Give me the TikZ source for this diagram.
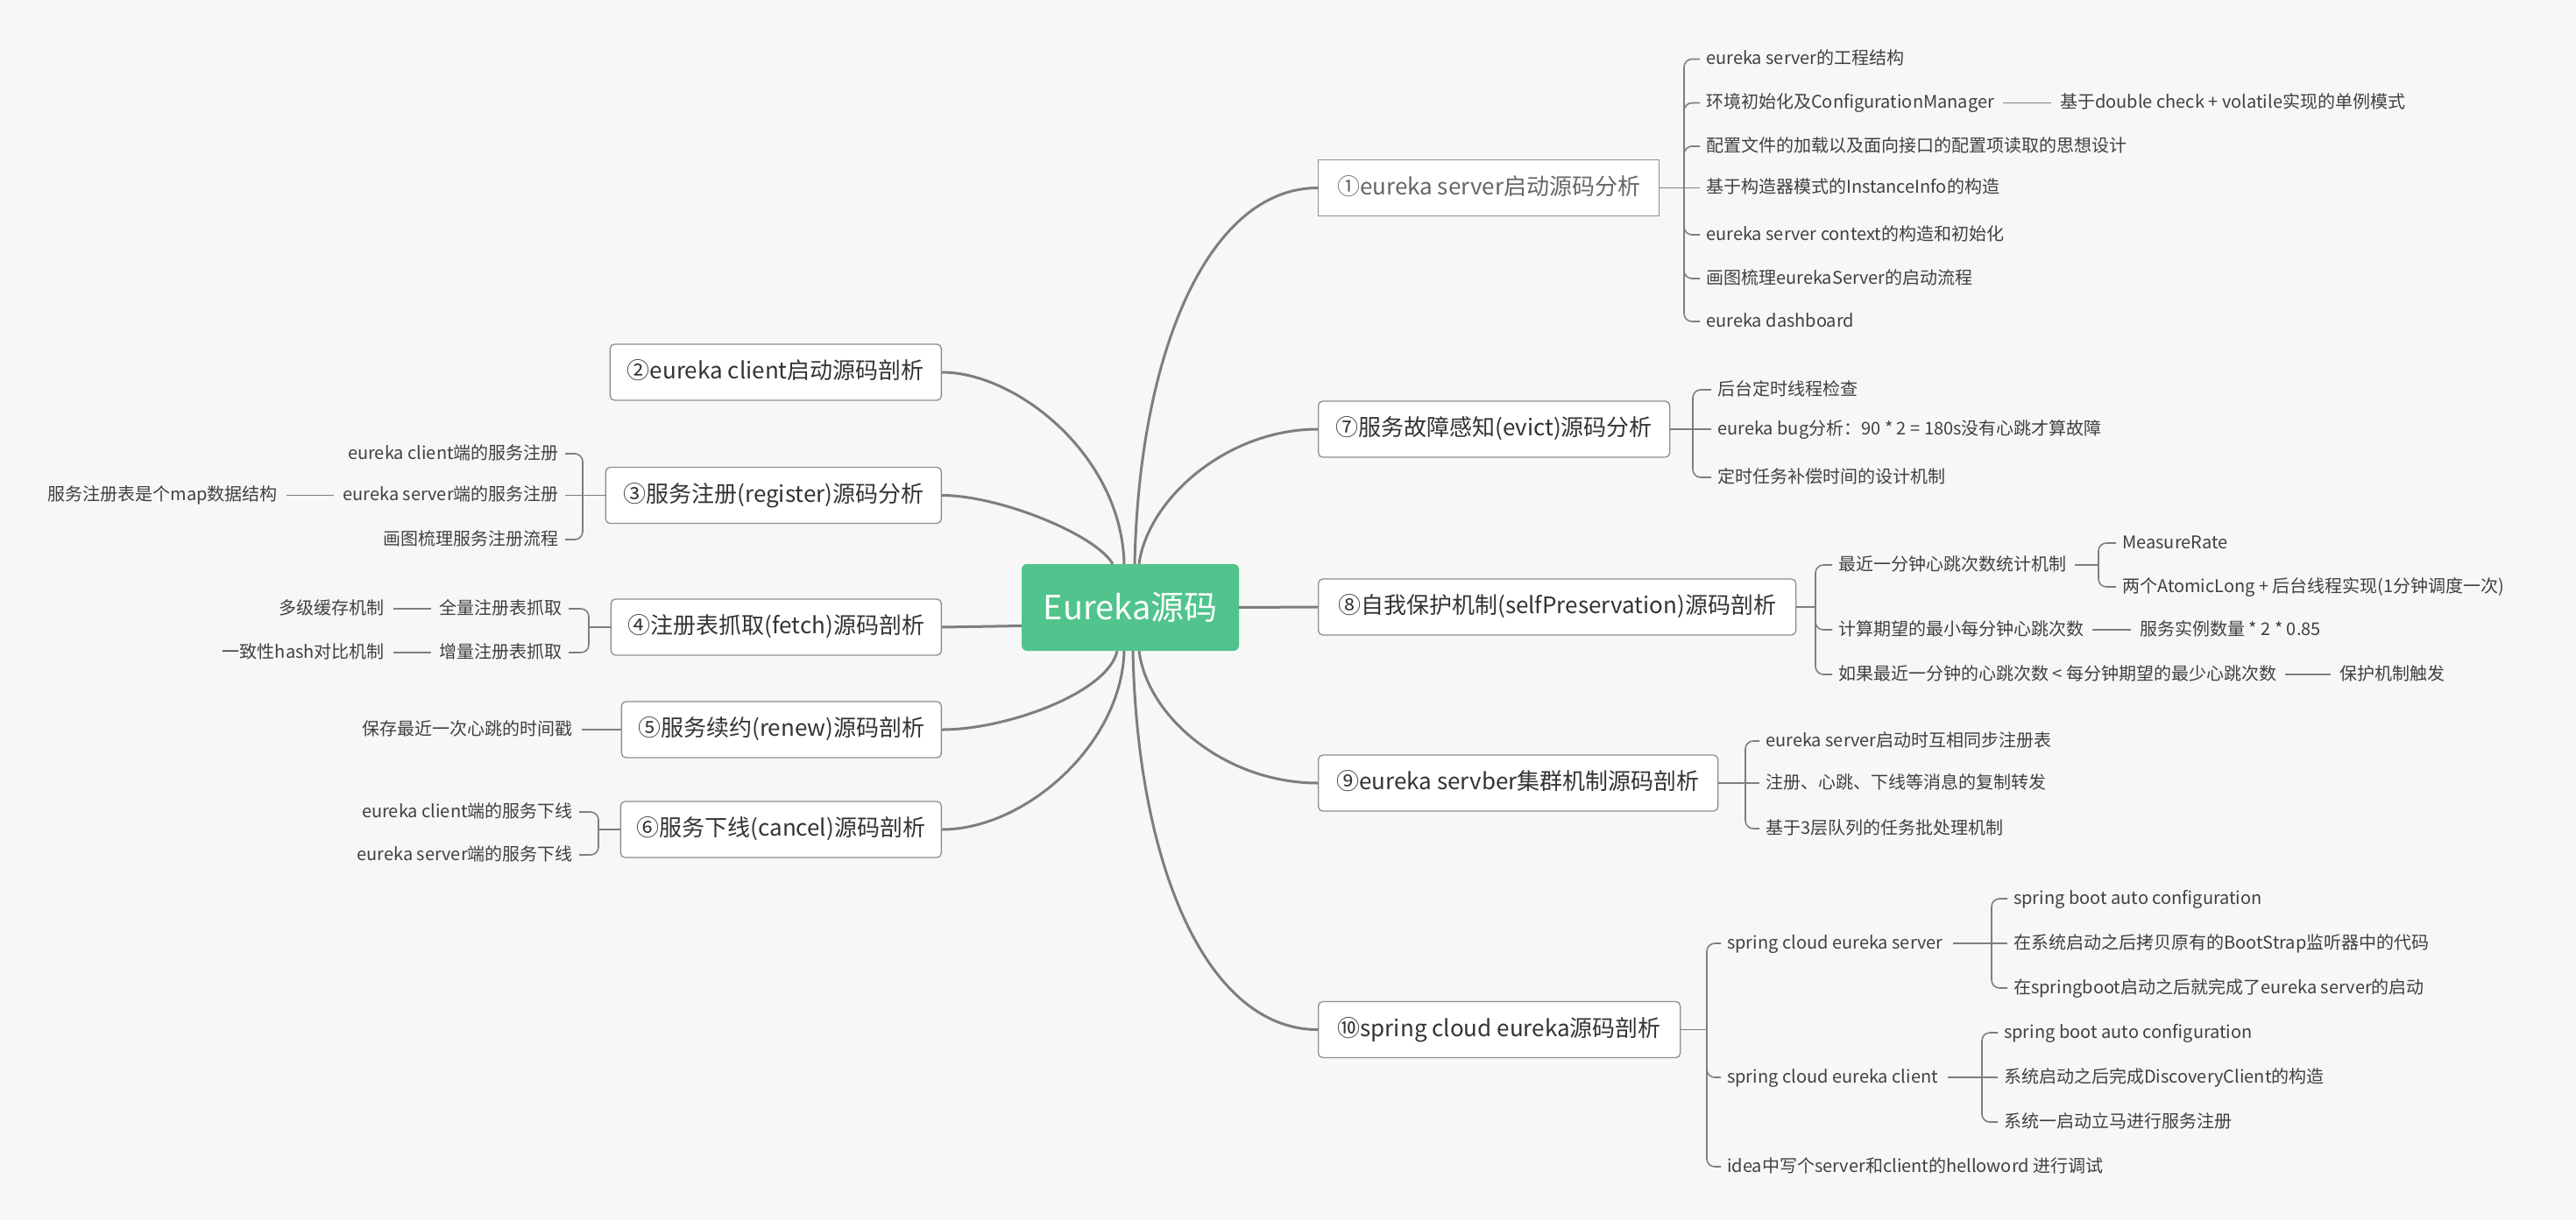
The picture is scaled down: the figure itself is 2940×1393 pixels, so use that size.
\documentclass[tikz,border=0pt]{standalone}
\usepackage{fontspec}
\setmainfont{Noto Sans CJK SC}
\usetikzlibrary{positioning}
\definecolor{bgcol}{HTML}{F7F7F7}
\definecolor{rootcol}{HTML}{50C48C}
\definecolor{linecol}{HTML}{7E7E7E}
\definecolor{bordercol}{HTML}{8E8E8E}
\definecolor{topictxt}{HTML}{333333}
\definecolor{firsttxt}{HTML}{666666}
\definecolor{leaftxt}{HTML}{404040}
\begin{document}
\begin{tikzpicture}[x=1pt,y=-1pt,
  rootnode/.style={fill=rootcol, rounded corners=6pt, text=white,
    font=\fontsize{38}{44}\selectfont, minimum width=248pt, minimum height=99pt, inner sep=0pt},
  topic/.style={draw=bordercol, line width=1.3pt, fill=white, rounded corners=5pt,
    text=topictxt, font=\fontsize{26}{30}\selectfont, minimum height=64pt,
    inner xsep=16pt, inner ysep=0pt, text height=20pt, text depth=5pt},
  rtopic/.style={topic, anchor=west},
  ltopic/.style={topic, anchor=east},
  leaf/.style={text=leaftxt, font=\fontsize{20}{24}\selectfont, inner sep=3pt,
    text height=15.5pt, text depth=3.5pt},
  rleaf/.style={leaf, anchor=west},
  lleaf/.style={leaf, anchor=east},
  mainlink/.style={draw=linecol, line width=3pt},
  sublink/.style={draw=linecol, line width=1.6pt},
  brace/.style={sublink, rounded corners=9pt, shorten >=4pt},
  gapline/.style={sublink, shorten <=7pt, shorten >=7pt},
]
\useasboundingbox (0,0) rectangle (2940,1393);
\fill[bgcol] (0,0) rectangle (2940,1393);

% ---------- root ----------
\node[rootnode] (root) at (1290,693.5) {Eureka源码};

% ---------- main topics ----------
\node[rtopic, minimum width=389pt, sharp corners, text=firsttxt] (t1) at (1504,214.5) {①eureka server启动源码分析};
\node[rtopic, minimum width=401pt] (t7) at (1504,490) {⑦服务故障感知(evict)源码分析};
\node[rtopic, minimum width=545pt] (t8) at (1504,693) {⑧自我保护机制(selfPreservation)源码剖析};
\node[rtopic, minimum width=456pt] (t9) at (1504,894) {⑨eureka servber集群机制源码剖析};
\node[rtopic, minimum width=413pt] (t10) at (1504,1175.5) {⑩spring cloud eureka源码剖析};

\node[ltopic, minimum width=378pt] (t2) at (1075,425) {②eureka client启动源码剖析};
\node[ltopic, minimum width=383pt] (t3) at (1075,565.5) {③服务注册(register)源码分析};
\node[ltopic, minimum width=377pt] (t4) at (1075,716) {④注册表抓取(fetch)源码剖析};
\node[ltopic, minimum width=365pt] (t5) at (1075,833) {⑤服务续约(renew)源码剖析};
\node[ltopic, minimum width=366pt] (t6) at (1075,947) {⑥服务下线(cancel)源码剖析};

% ---------- root connectors ----------
\coordinate (rt1) at ([xshift=5pt]root.north);
\coordinate (rt2) at ([xshift=-7pt]root.north);
\coordinate (rt3) at ([xshift=-20pt]root.north);
\coordinate (rt7) at ([xshift=10pt]root.north);
\coordinate (rb5) at ([xshift=-15pt]root.south);
\coordinate (rb6) at ([xshift=-7pt]root.south);
\coordinate (rb10) at ([xshift=3pt]root.south);
\coordinate (rb9) at ([xshift=10pt]root.south);
\coordinate (rw4) at ([yshift=-21pt]root.west);

\draw[mainlink] (rt1) .. controls +(5,-244) and +(-124,0) .. (t1.west);
\draw[mainlink] (rt2) .. controls +(-3,-124) and +(85,0) .. (t2.east);
\draw[mainlink] (rt3) .. controls +(-20,-34) and +(65,0) .. (t3.east);
\draw[mainlink] (rw4) -- (t4.east);
\draw[mainlink] (rb5) .. controls +(-10,47) and +(75,0) .. (t5.east);
\draw[mainlink] (rb6) .. controls +(-3,107) and +(95,0) .. (t6.east);
\draw[mainlink] (rt7) .. controls +(10,-74) and +(-104,0) .. (t7.west);
\draw[mainlink] (root.east) -- (t8.west);
\draw[mainlink] (rb9) .. controls +(10,77) and +(-104,0) .. (t9.west);
\draw[mainlink] (rb10) .. controls +(5,247) and +(-126,0) .. (t10.west);

% ---------- topic 1 ----------
\coordinate (b1) at (1922,214.5);
\node[rleaf] (c1a) at (1944,67.5) {eureka server的工程结构};
\node[rleaf] (c1b) at (1944,117.5) {环境初始化及ConfigurationManager};
\node[rleaf] (c1b2) at (2348,117.5) {基于double check + volatile实现的单例模式};
\node[rleaf] (c1c) at (1944,167) {配置文件的加载以及面向接口的配置项读取的思想设计};
\node[rleaf] (c1d) at (1944,214.5) {基于构造器模式的InstanceInfo的构造};
\node[rleaf] (c1e) at (1944,268) {eureka server context的构造和初始化};
\node[rleaf] (c1f) at (1944,318) {画图梳理eurekaServer的启动流程};
\node[rleaf] (c1g) at (1944,367) {eureka dashboard};
\draw[sublink] (t1.east) -- (b1);
\draw[sublink, shorten >=4pt] (b1) -- (c1d.west);
\foreach \lf in {c1a,c1b,c1c,c1e,c1f,c1g} \draw[brace] (b1) |- (\lf.west);
\draw[gapline] (c1b.east) -- (c1b2.west);

% ---------- topic 7 ----------
\coordinate (b7) at (1932,490);
\node[rleaf] (c7a) at (1957,445) {后台定时线程检查};
\node[rleaf] (c7b) at (1957,490) {eureka bug分析：90 * 2 = 180s没有心跳才算故障};
\node[rleaf] (c7c) at (1957,545) {定时任务补偿时间的设计机制};
\draw[sublink] (t7.east) -- (b7);
\draw[sublink, shorten >=4pt] (b7) -- (c7b.west);
\foreach \lf in {c7a,c7c} \draw[brace] (b7) |- (\lf.west);

% ---------- topic 8 ----------
\coordinate (b8) at (2072,693);
\node[rleaf] (c8a) at (2095,645) {最近一分钟心跳次数统计机制};
\node[rleaf] (c8b) at (2095,719) {计算期望的最小每分钟心跳次数};
\node[rleaf] (c8c) at (2095,770) {如果最近一分钟的心跳次数 < 每分钟期望的最少心跳次数};
\node[rleaf] (c8a1) at (2419,620) {MeasureRate};
\node[rleaf] (c8a2) at (2419,670) {两个AtomicLong + 后台线程实现(1分钟调度一次)};
\node[rleaf] (c8b2) at (2439,719) {服务实例数量 * 2 * 0.85};
\node[rleaf] (c8c2) at (2667,770) {保护机制触发};
\coordinate (b8s) at (2395,645);
\draw[sublink] (t8.east) -- (b8);
\foreach \lf in {c8a,c8b,c8c} \draw[brace] (b8) |- (\lf.west);
\draw[sublink, shorten <=7pt] (c8a.east) -- (b8s);
\foreach \lf in {c8a1,c8a2} \draw[brace] (b8s) |- (\lf.west);
\draw[gapline] (c8b.east) -- (c8b2.west);
\draw[gapline] (c8c.east) -- (c8c2.west);

% ---------- topic 9 ----------
\coordinate (b9) at (1992,894);
\node[rleaf] (c9a) at (2012,846) {eureka server启动时互相同步注册表};
\node[rleaf] (c9b) at (2012,894) {注册、心跳、下线等消息的复制转发};
\node[rleaf] (c9c) at (2012,946) {基于3层队列的任务批处理机制};
\draw[sublink] (t9.east) -- (b9);
\draw[sublink, shorten >=4pt] (b9) -- (c9b.west);
\foreach \lf in {c9a,c9c} \draw[brace] (b9) |- (\lf.west);

% ---------- topic 10 ----------
\coordinate (b10) at (1948,1175.5);
\node[rleaf] (c10a) at (1968,1077) {spring cloud eureka server};
\node[rleaf] (c10b) at (1968,1230) {spring cloud eureka client};
\node[rleaf] (c10c) at (1968,1332) {idea中写个server和client的helloword 进行调试};
\coordinate (b10s) at (2273,1077);
\node[rleaf] (c10a1) at (2295,1026) {spring boot auto configuration};
\node[rleaf] (c10a2) at (2295,1077) {在系统启动之后拷贝原有的BootStrap监听器中的代码};
\node[rleaf] (c10a3) at (2295,1128) {在springboot启动之后就完成了eureka server的启动};
\coordinate (b10c) at (2262,1230);
\node[rleaf] (c10b1) at (2284,1179) {spring boot auto configuration};
\node[rleaf] (c10b2) at (2284,1230) {系统启动之后完成DiscoveryClient的构造};
\node[rleaf] (c10b3) at (2284,1281) {系统一启动立马进行服务注册};
\draw[sublink] (t10.east) -- (b10);
\foreach \lf in {c10a,c10b,c10c} \draw[brace] (b10) |- (\lf.west);
\draw[sublink, shorten <=8pt] (c10a.east) -- (b10s);
\draw[sublink, shorten >=4pt] (b10s) -- (c10a2.west);
\foreach \lf in {c10a1,c10a3} \draw[brace] (b10s) |- (\lf.west);
\draw[sublink, shorten <=8pt] (c10b.east) -- (b10c);
\draw[sublink, shorten >=4pt] (b10c) -- (c10b2.west);
\foreach \lf in {c10b1,c10b3} \draw[brace] (b10c) |- (\lf.west);

% ---------- topic 3 ----------
\coordinate (b3) at (665,565.5);
\node[lleaf] (c3a) at (641,518) {eureka client端的服务注册};
\node[lleaf] (c3b) at (641,565.5) {eureka server端的服务注册};
\node[lleaf] (c3c) at (641,616) {画图梳理服务注册流程};
\node[lleaf] (c3b2) at (320,565.5) {服务注册表是个map数据结构};
\draw[sublink] (t3.west) -- (b3);
\draw[sublink, shorten >=4pt] (b3) -- (c3b.east);
\foreach \lf in {c3a,c3c} \draw[brace] (b3) |- (\lf.east);
\draw[gapline] (c3b2.east) -- (c3b.west);

% ---------- topic 4 ----------
\coordinate (b4) at (672,716);
\node[lleaf] (c4a) at (645,695) {全量注册表抓取};
\node[lleaf] (c4b) at (645,745) {增量注册表抓取};
\node[lleaf] (c4a2) at (442,695) {多级缓存机制};
\node[lleaf] (c4b2) at (442,745) {一致性hash对比机制};
\draw[sublink] (t4.west) -- (b4);
\foreach \lf in {c4a,c4b} \draw[brace] (b4) |- (\lf.east);
\draw[gapline] (c4a2.east) -- (c4a.west);
\draw[gapline] (c4b2.east) -- (c4b.west);

% ---------- topic 5 ----------
\node[lleaf] (c5a) at (657,833) {保存最近一次心跳的时间戳};
\draw[sublink, shorten <=7pt] (c5a.east) -- (t5.west);

% ---------- topic 6 ----------
\coordinate (b6) at (683,947);
\node[lleaf] (c6a) at (657,927) {eureka client端的服务下线};
\node[lleaf] (c6b) at (657,976) {eureka server端的服务下线};
\draw[sublink] (t6.west) -- (b6);
\foreach \lf in {c6a,c6b} \draw[brace] (b6) |- (\lf.east);
\end{tikzpicture}
\end{document}
